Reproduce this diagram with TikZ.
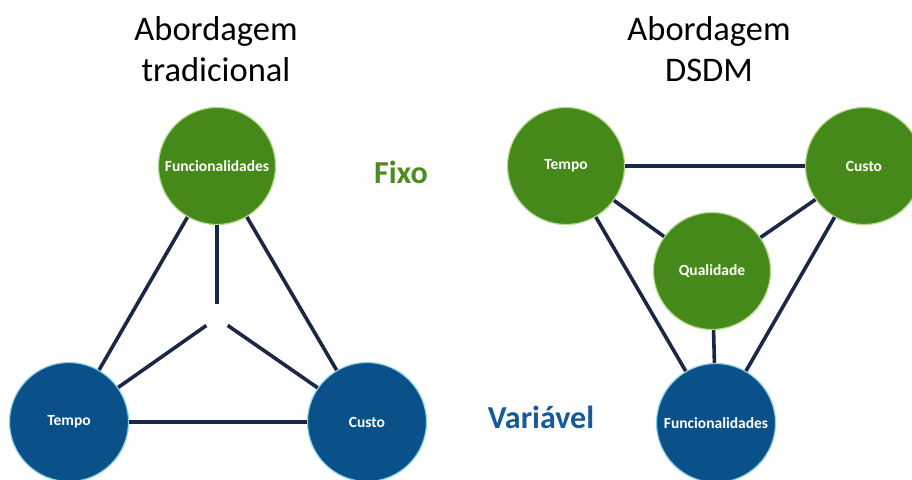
\documentclass[tikz,border=0pt]{standalone}
\usepackage{fontspec}
\setmainfont{Carlito}
\definecolor{fixgreen}{HTML}{46891B}
\definecolor{fixrim}{HTML}{B5D88F}
\definecolor{varblue}{HTML}{0B5189}
\definecolor{varrim}{HTML}{8FD3E6}
\definecolor{linknavy}{HTML}{1B2747}
\definecolor{fixtext}{HTML}{4C8C1C}
\definecolor{vartext}{HTML}{165A96}
\tikzset{
  fixedball/.style={circle, fill=fixgreen, draw=fixrim, line width=1.2pt,
    minimum size=117pt, inner sep=0pt, text=white,
    font=\fontsize{15.5}{15.5}\selectfont\bfseries},
  varball/.style={circle, fill=varblue, draw=varrim, line width=1.2pt,
    minimum size=119pt, inner sep=0pt, text=white,
    font=\fontsize{15.5}{15.5}\selectfont\bfseries},
  linkline/.style={draw=linknavy, line width=3.6pt},
  titletext/.style={align=center, font=\fontsize{34.5}{41}\selectfont, text=black},
  tagtext/.style={font=\fontsize{32}{32}\selectfont\bfseries}
}
\begin{document}
\begin{tikzpicture}[x=1pt,y=-1pt]
\useasboundingbox (0,0) rectangle (912,479);
\fill[white] (0,0) rectangle (912,479);

% titles
\node[titletext] (titleA) at (216,49) {Abordagem\\tradicional};
\node[titletext] (titleB) at (709,49) {Abordagem\\DSDM};

% legend words
\node[tagtext, text=fixtext] (fixo) at (401,172) {Fixo};
\node[tagtext, text=vartext] (var) at (541,417) {Variável};

% traditional approach
\node[fixedball] (lf) at (217,166) {Funcionalidades};
\node[varball] (lt) at (69,422) {Tempo};
\node[varball] (lc) at (367,422) {Custo};
\coordinate (hub) at (217,318);

\draw[linkline] (lf) -- (lt);
\draw[linkline] (lf) -- (lc);
\draw[linkline] (lt) -- (lc);
\draw[linkline, shorten >=14pt] (lf) -- (hub);
\draw[linkline, shorten >=13pt] (lt) -- (hub);
\draw[linkline, shorten >=13pt] (lc) -- (hub);

% DSDM approach
\node[fixedball] (rt) at (566,166) {Tempo};
\node[fixedball] (rc) at (864,166) {Custo};
\node[fixedball] (rq) at (712,271) {Qualidade};
\node[varball] (rf) at (716,423) {Funcionalidades};

\draw[linkline] (rt) -- (rc);
\draw[linkline] (rt) -- (rq);
\draw[linkline] (rc) -- (rq);
\draw[linkline] (rq) -- (rf);
\draw[linkline] (rt) -- (rf);
\draw[linkline] (rc) -- (rf);
\end{tikzpicture}
\end{document}
